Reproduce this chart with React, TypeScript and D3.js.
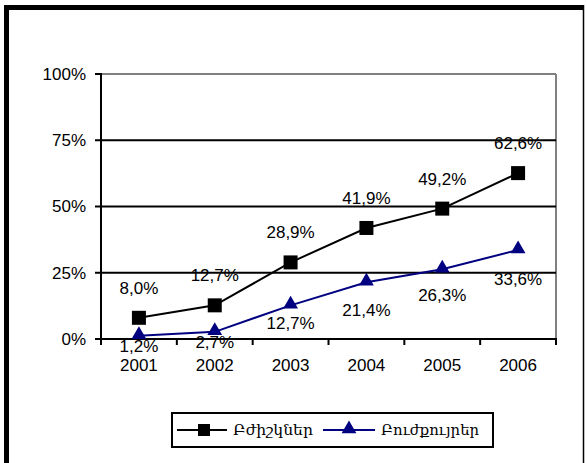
import React from "react";
import * as d3 from "d3";

const years = ["2001", "2002", "2003", "2004", "2005", "2006"];
const doctors = [8.0, 12.7, 28.9, 41.9, 49.2, 62.6];
const nurses = [1.2, 2.7, 12.7, 21.4, 26.3, 33.6];
const yTicks = [0, 25, 50, 75, 100];
const seriesNames = ["Բժիշկներ", "Բուժքույրեր"];
// label vertical offsets (px) for nurses labels, as placed in the original
const nurseLabelDy = [10, 10, 18, 28, 26, 29];

const W = 587;
const H = 463;
const plot = { left: 101, right: 556, top: 74, bottom: 339 };

const fmt = (v: number) => v.toFixed(1).replace(".", ",") + "%";

export default function App() {
  const x = d3.scaleBand().domain(years).range([plot.left, plot.right]).padding(0);
  const y = d3.scaleLinear().domain([0, 100]).range([plot.bottom, plot.top]);
  const cx = (d: string) => (x(d) as number) + x.bandwidth() / 2;

  const line = d3
    .line<number>()
    .x((_, i) => cx(years[i]))
    .y((v) => y(v));

  const numFont = "'Liberation Sans', Arial, sans-serif";
  const armFont = "'DejaVu Serif', serif";
  const navy = "#000080";
  const sq = 14;
  const tri = d3.symbol().type(d3.symbolTriangle).size(95)();
  const boundaries = d3.range(years.length + 1).map((i) => plot.left + i * x.bandwidth());

  return (
    <svg width={W} height={H} style={{ position: "absolute", left: 0, top: 0, background: "#fff" }}>
      {/* outer frame */}
      <line x1={6.5} y1={5} x2={6.5} y2={H} stroke="#000" strokeWidth={5} />
      <line x1={4} y1={7.5} x2={584} y2={7.5} stroke="#000" strokeWidth={5} />
      <line x1={583.5} y1={5} x2={583.5} y2={H} stroke="#000" strokeWidth={1.5} />

      {/* plot area border (gray) */}
      <line x1={plot.left} y1={plot.top} x2={plot.right} y2={plot.top} stroke="#808080" strokeWidth={2} />
      <line x1={plot.right} y1={plot.top} x2={plot.right} y2={plot.bottom} stroke="#808080" strokeWidth={2} />

      {/* gridlines */}
      {yTicks.filter((t) => t > 0 && t < 100).map((t) => (
        <line key={t} x1={plot.left} x2={plot.right} y1={y(t)} y2={y(t)} stroke="#000" strokeWidth={2} />
      ))}

      {/* y axis */}
      <line x1={plot.left} x2={plot.left} y1={plot.top - 1} y2={plot.bottom + 6} stroke="#000" strokeWidth={2} />
      {yTicks.map((t) => (
        <g key={t}>
          <line x1={plot.left - 6} x2={plot.left} y1={y(t)} y2={y(t)} stroke="#000" strokeWidth={2} />
          <text x={86} y={y(t)} dy="0.35em" textAnchor="end" fontFamily={numFont} fontSize={17}>
            {t}%
          </text>
        </g>
      ))}

      {/* x axis */}
      <line x1={plot.left - 6} x2={plot.right + 1} y1={plot.bottom} y2={plot.bottom} stroke="#000" strokeWidth={2} />
      {boundaries.map((b, i) => (
        <line key={i} x1={b} x2={b} y1={plot.bottom} y2={plot.bottom + 6} stroke="#000" strokeWidth={2} />
      ))}
      {years.map((yr) => (
        <text key={yr} x={cx(yr)} y={365} dy="0.35em" textAnchor="middle" fontFamily={numFont} fontSize={17}>
          {yr}
        </text>
      ))}

      {/* nurses series */}
      <path d={line(nurses) as string} fill="none" stroke={navy} strokeWidth={2} />
      {nurses.map((v, i) => (
        <path key={i} d={tri as string} transform={`translate(${cx(years[i])},${y(v) - 1})`} fill={navy} />
      ))}

      {/* doctors series */}
      <path d={line(doctors) as string} fill="none" stroke="#000" strokeWidth={2} />
      {doctors.map((v, i) => (
        <rect key={i} x={cx(years[i]) - sq / 2} y={y(v) - sq / 2} width={sq} height={sq} fill="#000" />
      ))}

      {/* labels */}
      {doctors.map((v, i) => (
        <text key={"d" + i} x={cx(years[i])} y={y(v) - 30} dy="0.35em" textAnchor="middle" fontFamily={numFont} fontSize={17}>
          {fmt(v)}
        </text>
      ))}
      {nurses.map((v, i) => (
        <text key={"n" + i} x={cx(years[i])} y={y(v) + nurseLabelDy[i]} dy="0.35em" textAnchor="middle" fontFamily={numFont} fontSize={17}>
          {fmt(v)}
        </text>
      ))}

      {/* legend */}
      <rect x={172} y={413} width={321} height={34} fill="#fff" stroke="#000" strokeWidth={2} />
      <line x1={177} x2={227} y1={430} y2={430} stroke="#000" strokeWidth={2} />
      <rect x={204 - 6} y={430 - 6} width={12} height={12} fill="#000" />
      <text x={233} y={430} dy="0.35em" fontFamily={armFont} fontSize={15.5} textLength={80} lengthAdjust="spacingAndGlyphs">
        {seriesNames[0]}
      </text>
      <line x1={323} x2={375} y1={430} y2={430} stroke={navy} strokeWidth={2} />
      <path d={tri as string} transform={`translate(349,429)`} fill={navy} />
      <text x={381} y={430} dy="0.35em" fontFamily={armFont} fontSize={15.5} textLength={98} lengthAdjust="spacingAndGlyphs">
        {seriesNames[1]}
      </text>
    </svg>
  );
}
